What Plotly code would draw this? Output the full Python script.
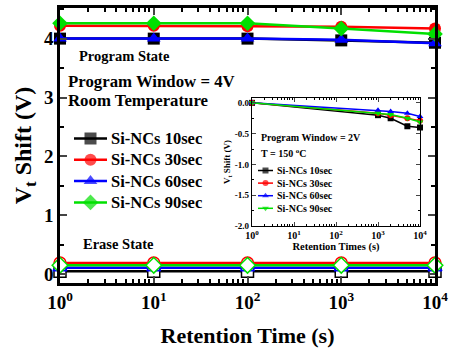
import plotly.graph_objects as go

# ---------------- data ----------------
times = [1, 10, 100, 1000, 10000]
series_names = ["Si-NCs 10sec", "Si-NCs 30sec", "Si-NCs 60sec", "Si-NCs 90sec"]
colors = ["#000000", "#ff0000", "#0000ff", "#00e000"]
symbols = ["square", "circle", "triangle-up", "diamond"]

prog_10 = [4.00, 4.00, 4.00, 3.97, 3.93]
prog_30 = [4.22, 4.22, 4.21, 4.20, 4.17]
prog_60 = [4.00, 4.00, 4.00, 3.98, 3.92]
prog_90 = [4.26, 4.26, 4.26, 4.17, 4.08]

erase_10 = [0.05, 0.05, 0.05, 0.05, 0.05]
erase_30 = [0.19, 0.19, 0.19, 0.19, 0.19]
erase_60 = [0.11, 0.11, 0.11, 0.11, 0.11]
erase_90 = [0.15, 0.15, 0.15, 0.15, 0.15]

inset_times = [1, 1000, 2000, 5000, 10000]
inset_10 = [0.0, -0.20, -0.25, -0.38, -0.40]
inset_30 = [0.0, -0.17, -0.20, -0.25, -0.29]
inset_60 = [0.0, -0.12, -0.14, -0.17, -0.22]
inset_90 = [0.0, -0.17, -0.19, -0.25, -0.31]
inset_symbols = ["square", "circle", "triangle-up", "triangle-down"]

main_tickvals = [1, 10, 100, 1000, 10000]
main_ticktext = ["10<sup>0</sup>", "10<sup>1</sup>", "10<sup>2</sup>", "10<sup>3</sup>", "10<sup>4</sup>"]
y_tickvals = [0, 1, 2, 3, 4]
inset_ytickvals = [0.0, -0.5, -1.0, -1.5, -2.0]
inset_yticktext = ["0.0", "-0.5", "-1.0", "-1.5", "-2.0"]

FONT = "Liberation Serif"

prog = [prog_10, prog_30, prog_60, prog_90]
erase = [erase_10, erase_30, erase_60, erase_90]
inset = [inset_10, inset_30, inset_60, inset_90]

minor_vals = [m * 10 ** d for d in range(4) for m in range(2, 10)]

W, H = 449, 348
l, r, t, b = 60, 14, 8, 65
pw, ph = W - l - r, H - t - b
inset_dx = [0.512, 0.96]
inset_dy = [0.207, 0.673]
# pixel bounds of the inset box (layout)
ix0, ix1 = l + inset_dx[0] * pw, l + inset_dx[1] * pw
iy_bot, iy_top = H - b - inset_dy[0] * ph, H - b - inset_dy[1] * ph

fig = go.Figure()

for i in range(4):
    fig.add_trace(go.Scatter(
        x=times, y=prog[i], mode="lines+markers", name=series_names[i], showlegend=False,
        line=dict(color=colors[i], width=2.5),
        marker=dict(symbol=symbols[i], size=12, color=colors[i], line=dict(width=0)),
        cliponaxis=False,
    ))
for i in range(4):
    fig.add_trace(go.Scatter(
        x=times, y=erase[i], mode="lines+markers", showlegend=False,
        line=dict(color=colors[i], width=2.5),
        marker=dict(symbol=symbols[i], size=12, color="white", line=dict(width=1.5, color=colors[i])),
        cliponaxis=False,
    ))
for i in range(4):
    fig.add_trace(go.Scatter(
        x=inset_times, y=inset[i], mode="lines+markers", name=series_names[i], showlegend=False,
        xaxis="x2", yaxis="y2",
        line=dict(color=colors[i], width=1.5),
        marker=dict(symbol=inset_symbols[i], size=6, color=colors[i], line=dict(width=0)),
        cliponaxis=False,
    ))


# ---- legends drawn as keys on invisible overlay axes (pixel layout units) ----
def add_key(xa, ya, x0, y0, dy, seglen, msize, lw, fsize, syms):
    for i, name in enumerate(series_names):
        yy = y0 + i * dy
        fig.add_trace(go.Scatter(
            x=[x0, x0 + seglen / 2, x0 + seglen], y=[yy, yy, yy], mode="lines+markers",
            xaxis=xa, yaxis=ya, showlegend=False, hoverinfo="skip",
            line=dict(color=colors[i], width=lw),
            marker=dict(symbol=syms[i], size=[0, msize, 0], color=colors[i], line=dict(width=0)),
            cliponaxis=False,
        ))
        fig.add_annotation(text=name, xref=xa, yref=ya, x=x0 + seglen + 2, y=yy,
                           xanchor="left", yanchor="middle", showarrow=False,
                           font=dict(size=fsize, family=FONT, weight="bold", color="black"))


add_key("x3", "y3", 74, 138.5, 21.3, 33, 12, 2.5, 16.5, symbols)
add_key("x4", "y4", 258, 170.5, 12.6, 15, 6, 1.5, 10, inset_symbols)

axis_common = dict(showline=True, linecolor="black", mirror="ticks", ticks="inside",
                   showgrid=False, zeroline=False, automargin=False)

fig.update_layout(
    width=W, height=H,
    margin=dict(l=l, r=r, t=t, b=b),
    paper_bgcolor="white", plot_bgcolor="white",
    font=dict(family=FONT, color="black", weight="bold"),
    showlegend=False,
    xaxis=dict(type="log", range=[0, 4], tickvals=main_tickvals, ticktext=main_ticktext,
               linewidth=2.5, ticklen=7, tickwidth=2,
               tickfont=dict(size=19, family=FONT, weight="bold"),
               title=dict(text="Retention Time (s)", font=dict(size=22, family=FONT, weight="bold"), standoff=18),
               minor=dict(ticks="inside", ticklen=4, tickwidth=1.5, tickcolor="black", tickvals=minor_vals),
               **axis_common),
    yaxis=dict(range=[-0.15, 4.52], tickvals=y_tickvals,
               linewidth=2.5, ticklen=7, tickwidth=2,
               tickfont=dict(size=19, family=FONT, weight="bold"),
               title=dict(text="V<sub>t</sub> Shift (V)", font=dict(size=24, family=FONT, weight="bold"), standoff=6),
               minor=dict(ticks="inside", ticklen=4, tickwidth=1.5, tickcolor="black", dtick=0.5),
               **axis_common),
    xaxis2=dict(type="log", range=[0, 4], domain=inset_dx, anchor="y2",
                tickvals=main_tickvals, ticktext=main_ticktext,
                linewidth=1.2, ticklen=4, tickwidth=1,
                tickfont=dict(size=10, family=FONT, weight="bold"),
                title=dict(text="Retention Times (s)", font=dict(size=10.5, family=FONT, weight="bold"), standoff=2),
                minor=dict(ticks="inside", ticklen=2, tickwidth=1, tickcolor="black", tickvals=minor_vals),
                **axis_common),
    yaxis2=dict(range=[-2.0, 0.08], domain=inset_dy, anchor="x2",
                tickvals=inset_ytickvals, ticktext=inset_yticktext,
                linewidth=1.2, ticklen=4, tickwidth=1,
                tickfont=dict(size=9, family=FONT, weight="bold"),
                title=dict(text="V<sub>t</sub> Shift (V)", font=dict(size=9, family=FONT, weight="bold"), standoff=2),
                minor=dict(ticks="inside", ticklen=2, tickwidth=1, tickcolor="black", dtick=0.25),
                **axis_common),
    xaxis3=dict(range=[l, W - r], visible=False, fixedrange=True, anchor="y3", overlaying="x"),
    yaxis3=dict(range=[H - b, t], visible=False, fixedrange=True, anchor="x3", overlaying="y"),
    xaxis4=dict(range=[ix0, ix1], visible=False, fixedrange=True, anchor="y4", overlaying="x2"),
    yaxis4=dict(range=[iy_bot, iy_top], visible=False, fixedrange=True, anchor="x4", overlaying="y2"),
)

ann = [
    dict(text="Program State", x=77, y=56, size=14.5),
    dict(text="Program Window = 4V", x=66, y=81, size=16.8),
    dict(text="Room Temperature", x=66, y=101, size=16.8),
    dict(text="Erase State", x=81, y=244, size=14.5),
    dict(text="Program Window = 2V", x=259, y=137, size=10),
    dict(text="T = 150 <sup>o</sup>C", x=259, y=153, size=10),
]
for a in ann:
    fig.add_annotation(text=a["text"], xref="paper", yref="paper",
                       x=(a["x"] - l) / pw, y=(H - b - a["y"]) / ph,
                       xanchor="left", yanchor="middle", showarrow=False,
                       font=dict(size=a["size"], family=FONT, weight="bold", color="black"))

fig.write_html("out.html")
